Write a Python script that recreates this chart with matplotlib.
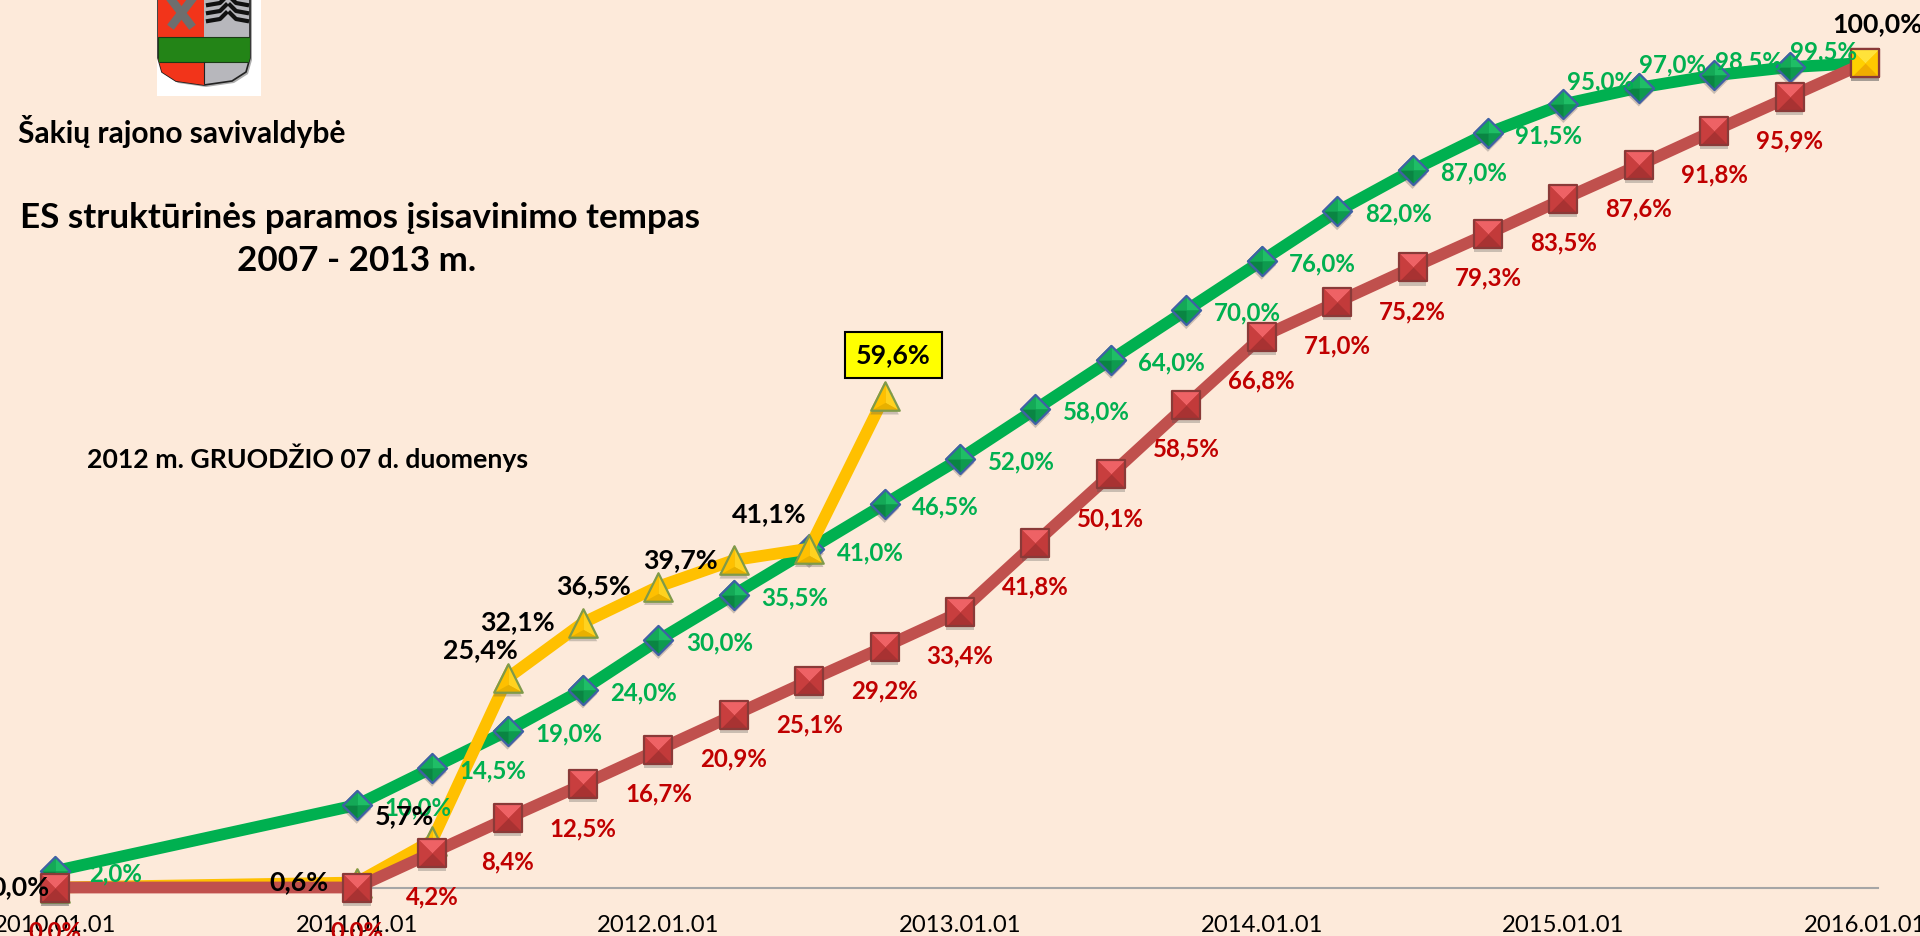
#!/usr/bin/env python3
"""ES paramos isisavinimo tempas - Sakiu rajono savivaldybe"""

import matplotlib
matplotlib.use('Agg')
import matplotlib.pyplot as plt
import matplotlib.patheffects as pe
from matplotlib.patches import Rectangle, PathPatch, Polygon
from matplotlib.path import Path

plt.rcParams['font.family'] = ['Lato', 'DejaVu Sans']

BG = '#FDEADA'

# duomenys
tick_dates = ['2010.01.01', '2011.01.01', '2012.01.01', '2013.01.01',
              '2014.01.01', '2015.01.01', '2016.01.01']

plan_dates = ['2010.01.01'] + [f'{y}.{m}.01' for y in range(2011, 2016) for m in ('01', '04', '07', '10')]
plan_values = [2.0, 10.0, 14.5, 19.0, 24.0, 30.0, 35.5, 41.0, 46.5, 52.0, 58.0, 64.0,
               70.0, 76.0, 82.0, 87.0, 91.5, 95.0, 97.0, 98.5, 99.5]

min_dates = ['2010.01.01'] + [f'{y}.{m}.01' for y in range(2011, 2016) for m in ('01', '04', '07', '10')] + ['2016.01.01']
min_values = [0.0, 0.0, 4.2, 8.4, 12.5, 16.7, 20.9, 25.1, 29.2, 33.4, 41.8, 50.1, 58.5,
              66.8, 71.0, 75.2, 79.3, 83.5, 87.6, 91.8, 95.9, 100.0]

fact_dates = ['2010.01.01', '2011.01.01', '2011.04.01', '2011.07.01', '2011.10.01',
              '2012.01.01', '2012.04.01', '2012.07.01', '2012.10.01']
fact_values = [0.0, 0.6, 5.7, 25.4, 32.1, 36.5, 39.7, 41.1, 59.6]

target_dates = ['2016.01.01']
target_values = [100.0]


def to_q(date_str):
    """data -> ketvirciu skaicius nuo 2010.01.01"""
    y, m, _ = date_str.split('.')
    return (int(y) - 2010) * 4 + (int(m) - 1) / 3


def pct(v):
    return f'{v:.1f}%'.replace('.', ',')


def facet_markers(ax, x, y, shape, colors, edge, size, zorder):
    """marker su 3D nuozulniais sonais: seselis, sonai, kontūras"""
    if shape == 'square':
        c = [(-1, 1), (1, 1), (1, -1), (-1, -1)]
    elif shape == 'diamond':
        c = [(0, 1), (1, 0), (0, -1), (-1, 0)]
    else:
        c = [(0, 1), (1, -1), (-1, -1)]
    mid = (0, 0) if shape != 'tri' else (0, -0.45)
    outline = Path(c + [c[0]], closed=True)
    ax.plot(x, y, ls='none', marker=outline, ms=size, mfc=colors[1], mec='none', zorder=zorder,
            path_effects=[pe.withSimplePatchShadow(offset=(0, -3), alpha=0.3, shadow_rgbFace='#555555')])
    n = len(c)
    for i in range(n):
        facet = Path([c[i], c[(i + 1) % n], mid, c[i]], closed=True)
        ax.plot(x, y, ls='none', marker=facet, ms=size, mfc=colors[i], mec='none', zorder=zorder)
    ax.plot(x, y, ls='none', marker=outline, ms=size, mfc='none', mec=edge, mew=1.6, zorder=zorder)


fig = plt.figure(figsize=(19.2, 9.36), dpi=100, facecolor=BG)

# pikselių sluoksnis: herbas ir antraštės
top = fig.add_axes([0, 0, 1, 1], facecolor='none')
top.set_xlim(0, 1920)
top.set_ylim(936, 0)
top.axis('off')

top.add_patch(Rectangle((157, -2), 104, 98, fc='white', ec='none', zorder=1))
shield_verts = [(158, -2), (250, -2), (250, 58), (246, 72), (232, 81), (204, 85),
                (176, 81), (162, 72), (158, 58), (158, -2)]
top.add_patch(Polygon([(x + 2, y + 2) for x, y in shield_verts], fc='#777777', ec='none', alpha=0.6, zorder=2))
shield = PathPatch(Path(shield_verts, closed=True), fc='#B7B7BC', ec='#222222', lw=1.2, zorder=3)
top.add_patch(shield)
left = Rectangle((158, -2), 46, 90, fc='#F2341A', ec='none', zorder=3)
band = Rectangle((158, 37), 92, 25, fc='#238417', ec='#1B3A16', lw=0.8, zorder=3)
top.add_patch(left)
top.add_patch(band)
left.set_clip_path(shield)
band.set_clip_path(shield)
top.plot([170, 190], [-2, 24], color='#6E6E6E', lw=6, zorder=4)
top.plot([193, 173], [-2, 24], color='#6E6E6E', lw=6, zorder=4)
for yy in (3, 11, 19):
    top.plot([208, 220, 226], [yy + 2, yy, yy - 6], color='#111111', lw=3, zorder=4)
    top.plot([247, 236, 230], [yy + 2, yy, yy - 6], color='#111111', lw=3, zorder=4)
top.plot([204, 204], [62, 83], color='#222222', lw=0.8, zorder=4)

top.text(18, 132, 'Šakių rajono savivaldybė', fontsize=21.5, fontweight='bold', va='center', ha='left')
top.text(360, 218, 'ES struktūrinės paramos įsisavinimo tempas', fontsize=25.2, fontweight='bold',
         va='center', ha='center')
top.text(357, 261, '2007 - 2013 m.', fontsize=25.2, fontweight='bold', va='center', ha='center')
top.text(87, 458, '2012 m. GRUODŽIO 07 d. duomenys', fontsize=19.2, fontweight='bold', va='center', ha='left')

# pagrindinis grafikas
ax = fig.add_axes([0, 0, 1, 1], facecolor='none')
q_px = (1865 - 55) / 24
ax.set_xlim(-55 / q_px, (1920 - 55) / q_px)
y_px = (887.5 - 63) / 100
ax.set_ylim(-(936 - 887.5) / y_px, 887.5 / y_px)
ax.axis('off')

ax.plot([to_q(tick_dates[0]), (1878 - 55) / q_px], [0, 0], color='#A6A6A6', lw=1.5, zorder=1)
for d in tick_dates:
    ax.annotate(d, (to_q(d), 0), xytext=(0, -38), textcoords='offset pixels', ha='center', va='center',
                fontsize=17.2, color='black', annotation_clip=False, zorder=9)

plan_x = [to_q(d) for d in plan_dates]
min_x = [to_q(d) for d in min_dates]
fact_x = [to_q(d) for d in fact_dates]
target_x = [to_q(d) for d in target_dates]

# žalia linija tęsiasi iki 100 %
ax.plot(plan_x + target_x, plan_values + target_values, color='#00B050', lw=8.5, zorder=2,
        solid_joinstyle='round')
facet_markers(ax, plan_x, plan_values, 'diamond',
              ['#1FBE66', '#0E9A4E', '#0A8543', '#14A957'], '#3F60A5', 21, 3)
ax.plot(fact_x, fact_values, color='#FFC000', lw=8.5, zorder=4, solid_joinstyle='round')
facet_markers(ax, fact_x, fact_values, 'tri',
              ['#FFD21F', '#E8B000', '#FFC000'], '#7F9A4A', 20.5, 5)
ax.plot(min_x, min_values, color='#C0504D', lw=8.5, zorder=6, solid_joinstyle='round')
facet_markers(ax, min_x, min_values, 'square',
              ['#EE6265', '#C23A3A', '#A83232', '#C83E3E'], '#8A3A38', 20, 7)
facet_markers(ax, target_x, target_values, 'square',
              ['#FFE23A', '#FFC800', '#F0AC00', '#FFD000'], '#8A3A38', 20, 8)

# etikečių poslinkiai pikseliais
plan_off = {17: (37, 22), 18: (34, 23), 19: (34, 13), 20: (34, 15)}
for i, (x, v) in enumerate(zip(plan_x, plan_values)):
    ax.annotate(pct(v), (x, v), xytext=plan_off.get(i, (61, -3)), textcoords='offset pixels',
                ha='center', va='center', fontsize=17.3, fontweight='bold', color='#00B050',
                annotation_clip=False, zorder=9)
# paskutinė raudona reikšmė (100 %) etiketės neturi
for x, v in zip(min_x[:-1], min_values[:-1]):
    ax.annotate(pct(v), (x, v), xytext=(0, -44), textcoords='offset pixels',
                ha='center', va='center', fontsize=17.3, fontweight='bold', color='#C00000',
                annotation_clip=False, zorder=9)
fact_off = [(-35, 0), (-58, 0), (-28, 24), (-27, 28), (-65, 1), (-65, 0), (-53, 0), (-40, 34)]
for (x, v), off in zip(zip(fact_x, fact_values), fact_off):
    ax.annotate(pct(v), (x, v), xytext=off, textcoords='offset pixels', ha='center', va='center',
                fontsize=19.3, fontweight='bold', color='black', annotation_clip=False, zorder=9)
ax.annotate(pct(fact_values[-1]), (fact_x[-1], fact_values[-1]), xytext=(9, 41), textcoords='offset pixels',
            ha='center', va='center', fontsize=19.3, fontweight='bold', color='black', zorder=9,
            bbox=dict(boxstyle='square,pad=0.4', fc='#FFFF00', ec='black', lw=1.5))
ax.annotate(pct(target_values[0]), (target_x[0], target_values[0]), xytext=(12, 39), textcoords='offset pixels',
            ha='center', va='center', fontsize=19.3, fontweight='bold', color='black',
            annotation_clip=False, zorder=9)

fig.savefig('out.png', dpi=100, facecolor=BG)
